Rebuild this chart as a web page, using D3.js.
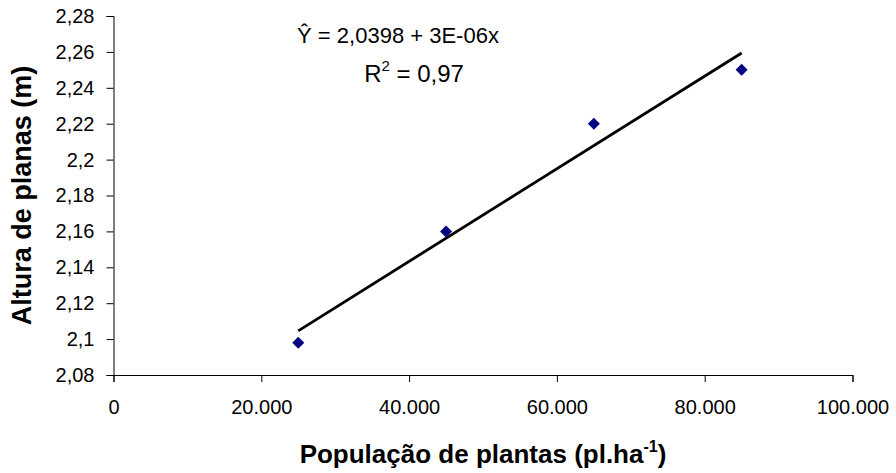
<!DOCTYPE html>
<html>
<head>
<meta charset="utf-8">
<script src="https://cdn.jsdelivr.net/npm/d3@7"></script>
<style>
  body { margin: 0; background: #fff; }
  text { font-family: Arial, "Liberation Sans", sans-serif; fill: #000; }
</style>
</head>
<body>
<svg width="896" height="473"></svg>
<script>
// plant population (pl/ha) and plant height (m)
var populacao = [25000, 45000, 65000, 85000];
var altura = [2.098, 2.16, 2.22, 2.25];
var xTicks = [0, 20000, 40000, 60000, 80000, 100000];
var yTicks = [2.08, 2.10, 2.12, 2.14, 2.16, 2.18, 2.20, 2.22, 2.24, 2.26, 2.28];

var svg = d3.select("svg"),
    width = +svg.attr("width"),
    height = +svg.attr("height");

var plotL = 113.5, plotR = 852.5, plotT = 16, plotB = 375;

var br = d3.formatLocale({decimal: ",", thousands: ".", grouping: [3], currency: ["", ""]});
var fmtY = br.format(".2~f"),
    fmtX = br.format(",.0f");

var x = d3.scaleLinear().domain([0, 100000]).range([plotL, plotR]);
var y = d3.scaleLinear().domain([2.08, 2.28]).range([plotB, plotT]);

// axes
svg.append("g")
    .attr("transform", "translate(0," + plotB + ")")
    .call(d3.axisBottom(x).tickValues(xTicks).tickFormat(fmtX).tickSize(7).tickPadding(18));

svg.append("g")
    .attr("transform", "translate(" + plotL + ",0)")
    .call(d3.axisLeft(y).tickValues(yTicks).tickFormat(fmtY).tickSize(7).tickPadding(12));

svg.selectAll(".domain").attr("stroke", "#000").attr("stroke-width", 1);
svg.selectAll(".tick line").attr("stroke", "#000");
svg.selectAll(".tick text")
    .style("font-family", "Arial, 'Liberation Sans', sans-serif")
    .style("font-size", "20px")
    .attr("fill", "#000");

// linear fit
var mx = d3.mean(populacao), my = d3.mean(altura);
var sxy = d3.sum(populacao, function(d, i) { return (d - mx) * (altura[i] - my); });
var sxx = d3.sum(populacao, function(d) { return (d - mx) * (d - mx); });
var b = sxy / sxx, a = my - b * mx;
var ext = d3.extent(populacao);

svg.append("line")
    .attr("x1", x(ext[0])).attr("y1", y(a + b * ext[0]))
    .attr("x2", x(ext[1])).attr("y2", y(a + b * ext[1]))
    .attr("stroke", "#000")
    .attr("stroke-width", 2.8);

// points
svg.append("g").selectAll("path")
    .data(populacao)
    .enter().append("path")
    .attr("d", d3.symbol().type(d3.symbolSquare).size(72))
    .attr("transform", function(d, i) {
        return "translate(" + x(d) + "," + y(altura[i]) + ") rotate(45)"; })
    .attr("fill", "#000080");

// equation
svg.append("text")
    .attr("x", 398).attr("y", 43)
    .attr("text-anchor", "middle")
    .style("font-size", "22px")
    .text("\u0176 = 2,0398 + 3E-06x");

var r2 = svg.append("text")
    .attr("x", 414).attr("y", 82)
    .attr("text-anchor", "middle")
    .style("font-size", "24px");
r2.append("tspan").text("R");
r2.append("tspan").attr("dy", -11).style("font-size", "15px").text("2");
r2.append("tspan").attr("dy", 11).text(" = 0,97");

// axis titles
var xt = svg.append("text")
    .attr("x", (plotL + plotR) / 2).attr("y", 463)
    .attr("text-anchor", "middle")
    .style("font-size", "26px")
    .style("font-weight", "bold");
xt.append("tspan").text("População de plantas (pl.ha");
xt.append("tspan").attr("dy", -11).style("font-size", "16px").text("-1");
xt.append("tspan").attr("dy", 11).text(")");

svg.append("text")
    .attr("transform", "translate(31," + (plotT + plotB) / 2 + ") rotate(-90)")
    .attr("text-anchor", "middle")
    .style("font-size", "27px")
    .style("font-weight", "bold")
    .text("Altura de planas (m)");
</script>
</body>
</html>
